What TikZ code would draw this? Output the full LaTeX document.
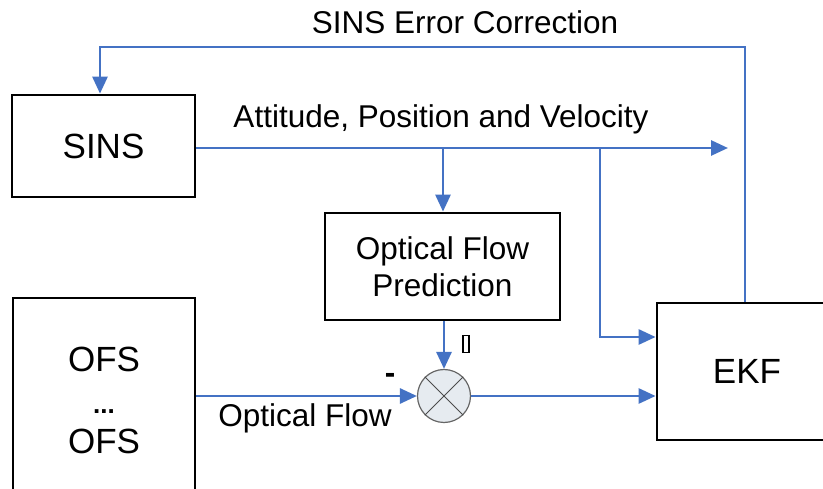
\documentclass[tikz,border=0pt]{standalone}
\usepackage{fontspec}
\setmainfont{Liberation Sans}
\usetikzlibrary{arrows.meta}
\definecolor{lineblue}{HTML}{4472C4}
\definecolor{sumfill}{HTML}{E6EBF0}
\begin{document}
\begin{tikzpicture}[x=1pt,y=-1pt,
  blk/.style={draw=black, line width=2.8pt, inner sep=0pt, align=center,
    font=\fontsize{35}{44}\selectfont},
  lbl/.style={inner sep=0pt, font=\fontsize{31.5}{38}\selectfont},
  conn/.style={draw=lineblue, line width=2.8pt},
  arr/.style={conn, -{Triangle[length=17pt,width=15pt]}}]
\useasboundingbox (0,0) rectangle (823,489);
\clip (0,0) rectangle (823,489);
\fill[white] (0,0) rectangle (823,489);
% boxes
\node[blk, minimum width=183pt, minimum height=102pt] (sins) at (103.5,146) {SINS};
\node[blk, minimum width=235pt, minimum height=107pt,
  font=\fontsize{31.5}{37}\selectfont] (pred) at (442.5,266.5) {Optical Flow\\Prediction};
\node[blk, minimum width=182pt, minimum height=204pt] (ofs) at (104,400)
  {OFS\\[-2pt]{\fontsize{26}{30}\selectfont\bfseries ...}\\[-4pt]OFS};
\node[blk, minimum width=180pt, minimum height=137pt] (ekf) at (747,371.5) {EKF};
% summing junction
\node[circle, draw=gray!80!black, line width=1.2pt, fill=sumfill,
  minimum size=53pt, inner sep=0pt] (sum) at (444,396) {};
\draw[gray!60!black, line width=0.9pt] (sum.45) -- (sum.225) (sum.135) -- (sum.315);
% coordinates
\coordinate (out) at (728,148);
\coordinate (bp) at (443,148);
\coordinate (be) at (600,148);
\coordinate (fbtop) at (745,47);
\coordinate (fbleft) at (100,47);
% connectors
\draw[arr] (sins.east |- out) -- (out);
\draw[arr] (bp) -- (pred.north -| bp);
\draw[arr] (be) |- (ekf.west |- 0,337);
\draw[arr] (pred.south -| sum.north) -- (sum.north);
\draw[arr] (ofs.east |- sum.west) -- (sum.west);
\draw[arr] (sum.east) -- (ekf.west |- sum.east);
\draw[arr] (ekf.north -| fbtop) -- (fbtop) -- (fbleft) -- (sins.north -| fbleft);
% labels
\node[lbl] (ltop) at (465,22) {SINS Error Correction};
\node[lbl] (lapv) at (441,119) {Attitude, Position and Velocity};
\node[lbl] (lof) at (305,418) {Optical Flow};
\node[lbl, font=\fontsize{31.5}{38}\selectfont\bfseries] (lminus) at (390,378) {-};
\node[draw=black, line width=1.3pt, minimum width=6pt, minimum height=17pt,
  inner sep=0pt] (lglyph) at (466,344) {};
\end{tikzpicture}
\end{document}
